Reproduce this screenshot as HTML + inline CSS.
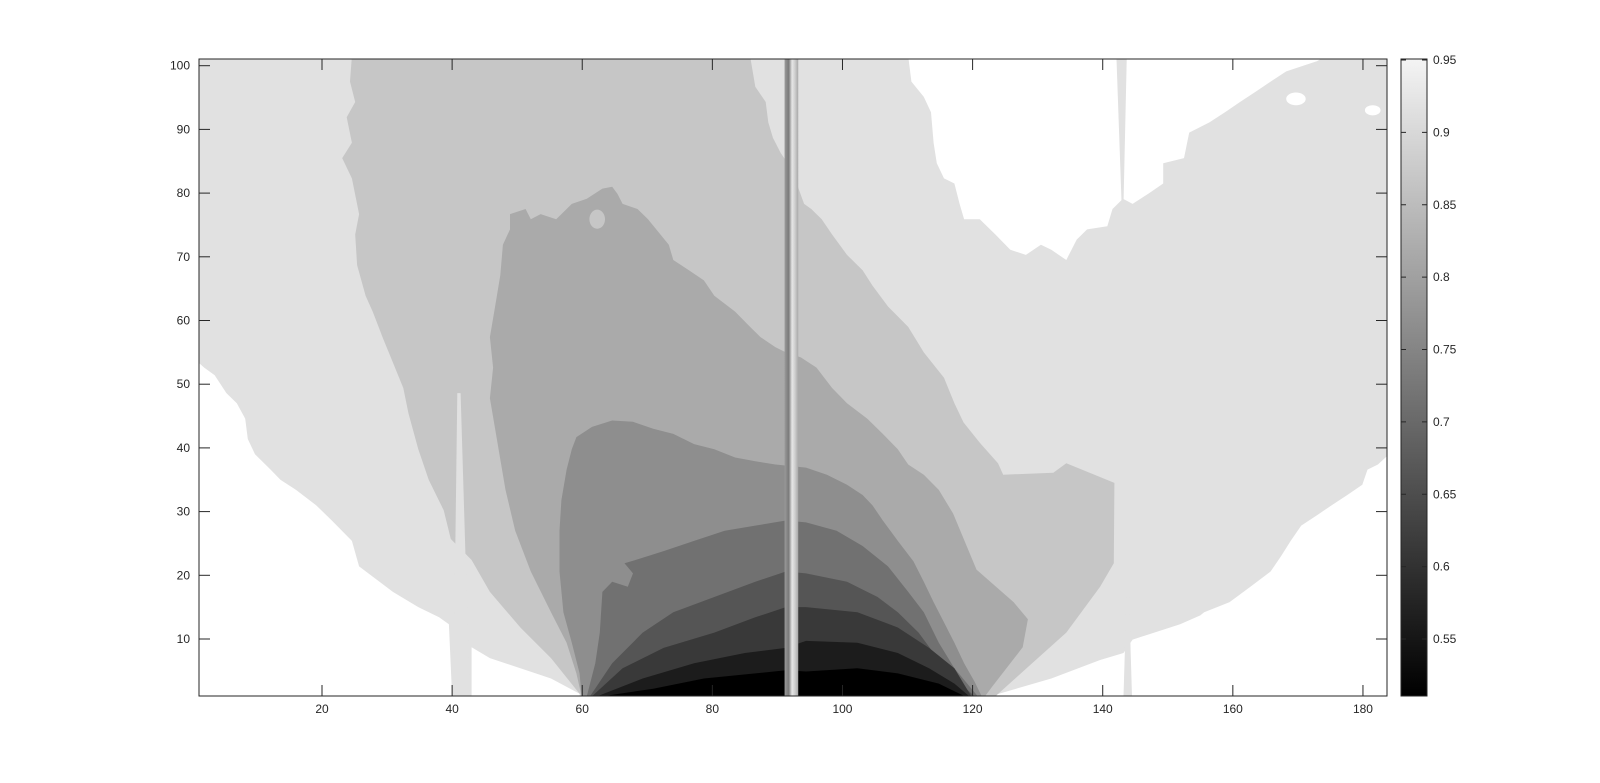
<!DOCTYPE html>
<html><head><meta charset="utf-8"><style>
html,body{margin:0;padding:0;background:#fff;width:1600px;height:783px;overflow:hidden}
svg text{font-family:"Liberation Sans",Arial,sans-serif;font-size:12px;fill:#262626}
</style></head><body>
<svg id="chart" width="1600" height="783" viewBox="0 0 1600 783" xmlns="http://www.w3.org/2000/svg">
<defs>
<clipPath id="plotclip"><rect x="199" y="59" width="1188" height="637"/></clipPath>
<linearGradient id="spikegrad" x1="0" x2="1" y1="0" y2="0">
<stop offset="0" stop-color="#9a9a9a"/><stop offset="0.3" stop-color="#7a7a7a"/><stop offset="0.55" stop-color="#e6e6e6"/><stop offset="0.75" stop-color="#d0d0d0"/><stop offset="1" stop-color="#a8a8a8"/>
</linearGradient>
<linearGradient id="cbgrad" x1="0" x2="0" y1="0" y2="1">
<stop offset="0" stop-color="#f4f4f4"/><stop offset="1" stop-color="#000"/>
</linearGradient>
</defs>
<g id="plot" clip-path="url(#plotclip)"></g>
<g id="axes"></g>
</svg>
<script>
const xTicks=[20,40,60,80,100,120,140,160,180];
const yTicks=[10,20,30,40,50,60,70,80,90,100];
const cbTicks=[0.55,0.6,0.65,0.7,0.75,0.8,0.85,0.9,0.95];
const cbRange=[0.5106,0.9507];
const xRange=[1.1,183.7];
const yRange=[1,101];
const levelColors=["#ffffff","#e1e1e1","#c6c6c6","#aaaaaa","#8e8e8e","#717171","#555555","#393939","#1c1c1c","#000000"];

const whiteLeft=[[1,53.4],[1.9,52.6],[3.5,51.4],[5.3,48.6],[6.9,47.0],[8.2,44.6],[8.6,41.4],[9.7,39.0],[12.1,36.6],[13.6,35.0],[16.0,33.4],[19.1,31.0],[21.5,28.6],[24.6,25.4],[25.7,21.4],[27.8,19.8],[30.9,17.4],[34.8,15.0],[38.0,13.4],[39.5,12.3],[40.0,1],[1,1]];
const whiteMid=[[43.0,8.7],[45.8,7.0],[50.5,5.4],[55.2,3.8],[59.6,1.4],[59.6,1],[43.0,1]];
const whiteTop=[[110.1,101.5],[110.6,97.5],[112.5,95.1],[113.6,92.7],[114.0,87.9],[114.5,84.7],[115.6,82.3],[117.2,81.5],[118.0,78.3],[118.7,75.9],[121.1,75.9],[123.5,73.5],[125.8,71.1],[128.2,70.3],[130.5,71.9],[132.1,71.1],[134.4,69.5],[136.0,72.7],[137.6,74.3],[140.7,74.8],[141.5,77.5],[143.1,79.1],[144.6,78.3],[147.0,79.9],[149.3,81.5],[149.3,84.7],[152.5,85.5],[153.3,89.5],[156.4,91.1],[158.8,92.7],[161.1,94.3],[163.5,95.9],[165.8,97.5],[168.2,99.1],[172.9,100.7],[174.4,101.5]];
const whiteRight=[[122.7,1],[132.1,3.8],[139.6,6.7],[143.2,7.8],[144.6,9.9],[151.9,12.3],[155.0,13.7],[155.6,14.2],[159.5,15.8],[162.7,18.2],[165.8,20.6],[167.4,23.0],[168.9,25.4],[170.5,27.8],[172.9,29.4],[175.2,31.0],[177.6,32.6],[179.9,34.2],[180.7,36.6],[182.3,37.4],[184,39.0],[184,1]];
const spikeA=[[40.8,48.6],[41.3,48.6],[42.7,1],[40.2,1]];
const spikeB=[[142.1,101.5],[143.7,101.5],[143.2,78.3],[143.1,55.8],[142.9,78.3]];
const spikeC=[[143.2,1],[144.5,1],[144.0,18.2],[143.7,18.2]];
const whiteBlobs=[[169.7,94.8,1.5,1.0],[181.5,93.0,1.2,0.8],[152.0,89.0,0.6,0.6]];
const band085=[[24.6,101.5],[24.3,97.5],[25.1,94.3],[23.8,91.9],[24.6,87.9],[23.1,85.5],[24.6,82.3],[25.7,76.7],[25.1,73.5],[25.4,68.7],[26.7,63.9],[27.8,61.4],[29.3,57.4],[30.9,53.4],[32.5,49.4],[33.3,45.4],[34.8,39.8],[36.4,35.0],[38.7,30.2],[39.8,25.7],[43.0,22.4],[45.8,17.4],[50.5,11.8],[55.2,7.0],[59.9,1],[123.5,1],[134.4,11.0],[139.6,18.2],[141.7,21.9],[141.8,34.5],[134.4,37.6],[132.4,36.1],[124.7,35.8],[123.9,37.6],[121.1,40.8],[118.6,44.0],[117.2,47.0],[115.6,51.0],[112.5,55.0],[110.1,59.0],[107.0,62.2],[104.6,65.5],[103.1,67.9],[100.7,70.3],[98.4,73.5],[96.8,75.9],[95.2,77.5],[94.1,78.3],[92.1,83.9],[90.5,86.3],[89.3,88.7],[88.6,91.1],[88.2,94.3],[86.6,96.7],[85.8,101.5]];
const band080=[[48.9,76.7],[51.3,77.5],[52.1,75.9],[53.6,76.7],[56.0,75.9],[58.4,78.3],[60.7,79.1],[63.1,80.7],[64.6,81.0],[65.4,79.9],[66.2,78.3],[68.5,77.5],[70.1,75.9],[73.3,71.9],[74.0,69.5],[76.4,67.9],[78.7,66.3],[80.3,63.9],[83.5,61.4],[85.8,59.0],[87.4,57.4],[89.7,55.8],[91.3,55.0],[93.6,54.2],[96.0,52.6],[98.4,49.4],[100.7,47.0],[103.8,44.6],[106.2,42.2],[108.5,39.8],[110.1,37.4],[112.5,35.8],[114.8,33.4],[117.0,29.7],[120.6,20.9],[126.3,15.8],[128.5,13.1],[127.7,8.7],[123.0,2.5],[121.9,1],[59.9,1],[59.1,4.6],[57.6,9.4],[55.2,14.2],[52.1,20.6],[49.7,27.0],[48.2,33.4],[47.4,38.2],[46.6,43.0],[45.8,47.8],[46.3,52.6],[45.8,57.4],[46.6,62.2],[47.4,67.1],[47.8,71.9],[48.9,74.3]];
const holes080=[[59.6,80.7,1.0,1.2],[62.3,75.9,1.2,1.5]];
const band075=[[59.9,1],[59.6,4.6],[58.4,9.4],[57.1,14.2],[56.5,20.6],[56.5,27.0],[56.8,31.8],[57.6,36.6],[58.4,39.8],[59.1,41.7],[61.5,43.3],[64.6,44.3],[67.8,44.1],[70.9,43.0],[74.0,42.2],[77.2,40.6],[80.3,39.8],[83.5,38.5],[86.6,37.9],[89.7,37.4],[94.4,36.9],[97.6,35.8],[100.7,34.2],[103.1,32.6],[104.6,31.0],[106.2,28.6],[108.5,25.4],[110.9,22.2],[112.5,19.0],[114.0,15.8],[115.6,12.6],[117.2,9.4],[118.7,6.2],[120.3,3.3],[121.4,1]];
const band070=[[60.7,1],[62.0,6.2],[62.7,11.0],[63.1,17.4],[64.6,19.0],[67.0,18.2],[67.8,20.3],[66.5,21.9],[68.5,22.5],[72.5,23.8],[77.2,25.4],[81.9,27.0],[86.6,27.8],[91.3,28.6],[94.4,28.3],[99.1,27.0],[103.1,24.6],[107.0,21.4],[110.1,17.4],[112.5,14.2],[114.8,9.4],[117.2,5.4],[120.8,1]];
const band065=[[61.2,1],[64.6,6.2],[69.3,11.0],[74.0,14.2],[80.3,16.6],[86.6,19.0],[91.3,20.6],[94.4,20.3],[100.7,19.0],[105.4,16.6],[108.5,14.2],[111.7,11.0],[114.0,7.8],[116.4,4.6],[120.3,1]];
const band060=[[61.5,1],[66.2,5.4],[72.5,8.6],[80.3,11.0],[86.6,13.4],[91.3,15.0],[94.4,15.0],[102.3,14.2],[108.5,11.8],[113.3,8.6],[117.2,5.4],[119.8,1]];
const band055=[[62.3,1],[69.3,3.8],[77.2,6.2],[85.0,7.8],[91.3,8.6],[94.4,9.7],[102.3,9.4],[108.5,7.8],[113.3,5.4],[117.2,3.0],[119.5,1]];
const band050=[[63.1,1],[70.9,2.2],[78.7,3.8],[86.6,4.6],[91.3,5.1],[94.4,4.9],[102.3,5.4],[108.5,4.6],[114.8,3.0],[118.8,1]];
const centralSpike=[91.1,93.2];

const X=d=>322+(d-20)*6.506;
const Y=d=>639-(d-10)*6.37;
const CB=v=>60+(0.95-v)/0.05*72.375;
const NS="http://www.w3.org/2000/svg";
const plot=document.getElementById('plot');
const axes=document.getElementById('axes');
function mk(tag,attrs,parent){const e=document.createElementNS(NS,tag);for(const k in attrs)e.setAttribute(k,attrs[k]);parent.appendChild(e);return e;}
function poly(pts,fill,name){
  const p=mk('polygon',{points:pts.map(q=>X(q[0]).toFixed(1)+','+Y(q[1]).toFixed(1)).join(' '),fill:fill},plot);
  
  
  return p;
}
function blob(b,fill,name){
  const e=mk('ellipse',{cx:X(b[0]),cy:Y(b[1]),rx:b[2]*6.506,ry:b[3]*6.37,fill:fill},plot);
  
  
}
const bg=mk('rect',{x:X(xRange[0]),y:Y(yRange[1]),width:X(xRange[1])-X(xRange[0]),height:Y(yRange[0])-Y(yRange[1]),fill:levelColors[1]},plot);


poly(whiteLeft,levelColors[0],'band-above-0.90-left');
poly(whiteMid,levelColors[0],'band-above-0.90-bottom');
poly(whiteTop,levelColors[0],'band-above-0.90-top');
poly(whiteRight,levelColors[0],'band-above-0.90-right');
whiteBlobs.forEach(b=>blob(b,levelColors[0],'band-above-0.90-island'));
poly(spikeB,levelColors[1],'spike-x143-top');
poly(spikeC,levelColors[1],'spike-x143-bottom');
poly(band085,levelColors[2],'band-0.80-0.85');
poly(spikeA,levelColors[1],'spike-x41');
poly(band080,levelColors[3],'band-0.75-0.80');
holes080.forEach(b=>blob(b,levelColors[2],'band-0.80-0.85-island'));
poly(band075,levelColors[4],'band-0.70-0.75');
poly(band070,levelColors[5],'band-0.65-0.70');
poly(band065,levelColors[6],'band-0.60-0.65');
poly(band060,levelColors[7],'band-0.55-0.60');
poly(band055,levelColors[8],'band-0.50-0.55');
poly(band050,levelColors[9],'band-below-0.50');
const cs=mk('rect',{x:X(centralSpike[0]),y:59,width:X(centralSpike[1])-X(centralSpike[0]),height:637,fill:'url(#spikegrad)'},plot);



// frame
const fr=mk('rect',{x:199,y:59,width:1188,height:637,fill:'none',stroke:'#262626','stroke-width':1},axes);


xTicks.forEach(t=>{
  const x=X(t);
  mk('line',{x1:x,x2:x,y1:696,y2:685,stroke:'#262626'},axes);
  mk('line',{x1:x,x2:x,y1:59,y2:70,stroke:'#262626'},axes);
  const tx=mk('text',{x:x,y:713,'text-anchor':'middle'},axes);
  tx.textContent=t;
  
  
});
yTicks.forEach(t=>{
  const y=Y(t);
  mk('line',{x1:199,x2:210,y1:y,y2:y,stroke:'#262626'},axes);
  mk('line',{x1:1387,x2:1376,y1:y,y2:y,stroke:'#262626'},axes);
  const tx=mk('text',{x:190,y:y+4,'text-anchor':'end'},axes);
  tx.textContent=t;
  
  
});
// colorbar
const cb=mk('rect',{x:1401,y:59,width:26,height:637,fill:'url(#cbgrad)',stroke:'#262626','stroke-width':1},axes);


cbTicks.forEach(v=>{
  const y=CB(v);
  mk('line',{x1:1427,x2:1422,y1:y,y2:y,stroke:'#262626'},axes);
  mk('line',{x1:1401,x2:1406,y1:y,y2:y,stroke:'#262626'},axes);
  const tx=mk('text',{x:1433,y:y+4},axes);
  tx.textContent=String(v);
  
  
});
</script>
</body></html>
